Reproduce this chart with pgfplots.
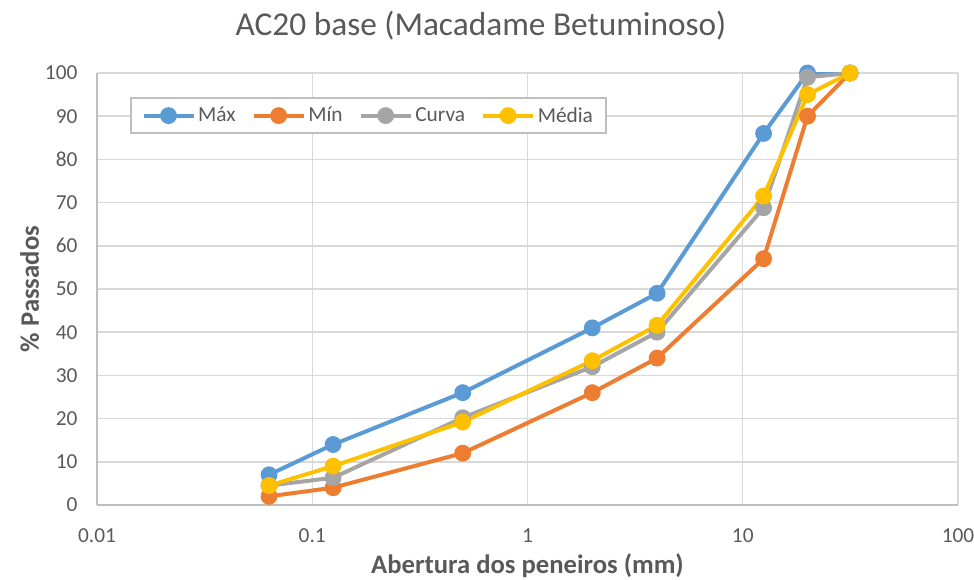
\documentclass[border=0pt]{standalone}
\usepackage{pgfplots}
\pgfplotsset{compat=1.18}
\usepackage{fontspec}
\setmainfont{Carlito}
\definecolor{cmax}{HTML}{5B9BD5}
\definecolor{cmin}{HTML}{ED7D31}
\definecolor{ccurva}{HTML}{A5A5A5}
\definecolor{cmedia}{HTML}{FFC000}
\definecolor{txt}{HTML}{595959}
\definecolor{gridc}{HTML}{D9D9D9}
\definecolor{axc}{HTML}{BFBFBF}

% 1 px of the reference = 0.75pt
\begin{document}
\begin{tikzpicture}
\begin{axis}[
    scale only axis,
    width=645.75pt, height=324pt,
    xmode=log,
    xmin=0.01, xmax=100,
    ymin=0, ymax=100,
    xtick={0.01,0.1,1,10,100},
    xticklabels={0.01,0.1,1,10,100},
    ytick={0,10,...,100},
    grid=major,
    major grid style={gridc, line width=1.1pt},
    axis lines*=left,
    axis line style={axc, line width=1.1pt, -},
    tick style={draw=none},
    ticklabel style={font=\fontsize{16pt}{18pt}\selectfont, text=txt},
    /pgf/number format/assume math mode=true,
    xticklabel style={anchor=base, yshift=-28.5pt},
    yticklabel style={anchor=east, inner sep=0pt, xshift=-14.5pt},
    title={AC20 base (Macadame Betuminoso)},
    title style={font=\fontsize{25pt}{30pt}\selectfont, text=txt,
                 at={(axis description cs:0.446,1.068)}, anchor=base},
    xlabel={Abertura dos peneiros (mm)},
    xlabel style={font=\fontsize{20pt}{24pt}\selectfont\bfseries, text=txt,
                  at={(axis description cs:0.5,-0.1597)}, anchor=base},
    ylabel={\% Passados},
    ylabel style={font=\fontsize{20pt}{24pt}\selectfont\bfseries, text=txt,
                  at={(axis description cs:-0.0674,0.5)}, anchor=base},
    every axis plot/.append style={line width=3pt, mark=*, mark size=4.8pt},
    legend columns=4,
    legend cell align=left,
    legend image code/.code={
        \draw[mark repeat=2, mark phase=2, #1]
            plot coordinates {(0pt,0pt) (18.75pt,0pt) (37.5pt,0pt)};},
    legend style={at={(axis description cs:0.0383,0.9444)}, anchor=north west,
                  draw=axc, line width=1.3pt, fill=white,
                  font=\fontsize{16pt}{18pt}\selectfont, text=txt,
                  inner xsep=8pt, inner ysep=5pt,
                  /tikz/every even column/.append style={column sep=10pt}},
]
\addplot[color=cmax] coordinates {
    (0.063,7) (0.125,14) (0.5,26) (2,41) (4,49) (12.5,86) (20,100) (31.5,100)};
\addplot[color=cmin] coordinates {
    (0.063,2) (0.125,4) (0.5,12) (2,26) (4,34) (12.5,57) (20,90) (31.5,100)};
\addplot[color=ccurva] coordinates {
    (0.063,4.5) (0.125,6.3) (0.5,20.2) (2,32) (4,40) (12.5,68.8) (20,99) (31.5,100)};
\addplot[color=cmedia] coordinates {
    (0.063,4.5) (0.125,9) (0.5,19.2) (2,33.4) (4,41.6) (12.5,71.5) (20,95) (31.5,100)};
\legend{Máx,Mín,Curva,Média}
\end{axis}
\path (current axis.south west) ++(-72.75pt,-56.25pt) coordinate (bbA);
\path (current axis.north east) ++(12pt,54.75pt) coordinate (bbB);
\pgfresetboundingbox
\path[use as bounding box] (bbA) rectangle (bbB);
\end{tikzpicture}
\end{document}
